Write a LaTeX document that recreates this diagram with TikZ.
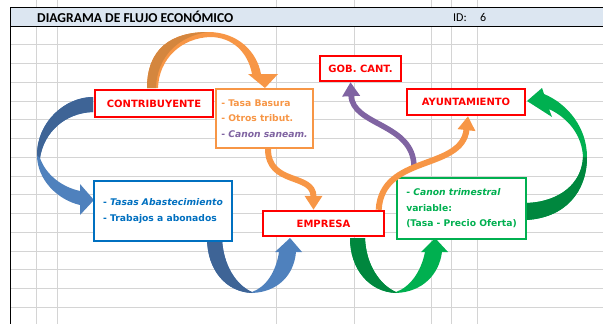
\documentclass[tikz,border=0pt]{standalone}
\usepackage{fontspec}
\setmainfont{Carlito}
\newfontfamily\comicfont{DejaVu Sans}
\usetikzlibrary{arrows.meta}
\definecolor{rotbox}{RGB}{255,0,0}
\definecolor{orangeline}{RGB}{247,150,70}
\definecolor{orangedark}{RGB}{212,134,62}
\definecolor{purpleline}{RGB}{128,100,162}
\definecolor{bluetext}{RGB}{0,112,192}
\definecolor{blueribbon}{RGB}{79,129,189}
\definecolor{bluedark}{RGB}{62,100,150}
\definecolor{greenbox}{RGB}{0,176,80}
\definecolor{greendark}{RGB}{0,135,62}
\definecolor{gridgray}{RGB}{212,212,212}
\definecolor{headerblue}{RGB}{220,230,241}
\begin{document}
\begin{tikzpicture}[x=1pt,y=-1pt,
    redbox/.style={draw=rotbox, line width=2.4pt, fill=white, text=rotbox, inner sep=0pt,
        font=\comicfont\bfseries\fontsize{10}{12}\selectfont},
    listbox/.style={fill=white, line width=1.8pt, inner sep=0pt, align=left,
        font=\comicfont\bfseries\fontsize{9.2}{15.5}\selectfont},
    flowline/.style={line width=6pt, -{Triangle[length=14pt,width=17pt]}},
    gridline/.style={gridgray, line width=0.8pt}]
            \useasboundingbox (0,0) rectangle (603,324);
            % Raster
            \foreach \x in {36,57,276,354,431,451,477}
                \draw[gridline] (\x,0) -- (\x,324);
            \foreach \y in {44,63,82,101,119,138,157,176,194,213,232,251,269,288,307}
                \draw[gridline] (10,\y) -- (603,\y);
            % Kopfzeile
            \fill[headerblue] (10,7) rectangle (603,26);
            \draw[line width=1pt] (10,7) -- (603,7);
            \draw[line width=1pt] (10,26) -- (603,26);
            \draw[line width=1pt] (10,7) -- (10,324);
            \node[anchor=base west, inner sep=0pt, font=\bfseries\fontsize{13.6}{15}\selectfont] (titel) at (37,22) {DIAGRAMA DE FLUJO ECONÓMICO};
            \node[anchor=base west, inner sep=0pt, font=\fontsize{12}{14}\selectfont] (idlabel) at (453,21) {ID:};
            \node[anchor=base west, inner sep=0pt, font=\fontsize{12}{14}\selectfont] (idwert) at (480,21) {6};
            % Pfeil oben (orange)
            \fill[orangeline] (147,88) .. controls (147,48) and (172,32) .. (208,32) .. controls (238,32) and (257,52) .. (261,74)
                -- (278,74) -- (265,88) -- (248,74) -- (252,74) .. controls (248,52) and (232,37) .. (210,37)
                .. controls (182,38) and (159,58) .. (158,88) -- cycle;
            \fill[orangedark] (147,88) .. controls (147,48) and (172,32) .. (208,32) .. controls (180,36) and (157,55) .. (156,88) -- cycle;
            % Pfeil links (blau)
            \fill[blueribbon] (93,97) .. controls (65,97) and (37,122) .. (37,155) .. controls (37,180) and (58,200) .. (80,205)
                -- (80,215) -- (94,200) -- (80,184) -- (80,191) .. controls (62,187) and (46,175) .. (40,158)
                .. controls (44,132) and (65,113) .. (93,112) -- cycle;
            \fill[bluedark] (93,97) .. controls (65,97) and (37,122) .. (37,155) -- (40,158) .. controls (44,132) and (65,113) .. (93,112) -- cycle;
            % Pfeil unten (blau)
            \fill[blueribbon] (207,238) .. controls (207,270) and (226,292) .. (252,293) .. controls (278,292) and (294,275) .. (296,252)
                -- (302,252) -- (290,238) -- (275,252) -- (279,252) .. controls (276,272) and (266,287) .. (252,292)
                .. controls (236,285) and (223,265) .. (222,238) -- cycle;
            \fill[bluedark] (207,238) .. controls (207,270) and (226,292) .. (252,293) -- (252,292) .. controls (236,285) and (223,265) .. (222,238) -- cycle;
            % Pfeil unten (gruen)
            \fill[greenbox] (350,238) .. controls (350,270) and (370,292) .. (396,293) .. controls (422,292) and (439,275) .. (442,252)
                -- (448,252) -- (435,238) -- (421,252) -- (425,252) .. controls (421,272) and (410,287) .. (396,292)
                .. controls (380,285) and (366,265) .. (365,238) -- cycle;
            \fill[greendark] (350,238) .. controls (350,270) and (370,292) .. (396,293) -- (396,292) .. controls (380,285) and (366,265) .. (365,238) -- cycle;
            % Pfeil rechts (gruen)
            \fill[greenbox] (526,220) .. controls (565,218) and (587,192) .. (587,157) .. controls (587,128) and (568,104) .. (544,94)
                -- (542,88) -- (527,101) -- (552,117) -- (549,109) .. controls (568,118) and (582,135) .. (583,157)
                .. controls (582,183) and (560,202) .. (526,203) -- cycle;
            \fill[greendark] (526,220) .. controls (565,218) and (587,192) .. (587,157) -- (583,157) .. controls (582,183) and (560,202) .. (526,203) -- cycle;
            % Kaesten
            \node[redbox, minimum width=118pt, minimum height=27pt] (contrib) at (154,103.5) {CONTRIBUYENTE};
            \node[redbox, minimum width=81pt, minimum height=25pt] (gob) at (360.5,68.5) {GOB. CANT.};
            \node[redbox, minimum width=118pt, minimum height=26pt] (ayunt) at (466,102) {AYUNTAMIENTO};
            \node[redbox, minimum width=121pt, minimum height=25pt] (empresa) at (323.5,223.5) {EMPRESA};
            \node[listbox, draw=orangeline, minimum width=97pt, minimum height=59pt] (tasa) at (264.5,118.5)
                {\textcolor{orangeline}{- Tasa Basura}\\\textcolor{orangeline}{- Otros tribut.}\\\textcolor{purpleline}{- \itshape Canon saneam.}};
            \node[listbox, draw=bluetext, text=bluetext, minimum width=138pt, minimum height=60pt] (abast) at (163,211)
                {- \textit{Tasas Abastecimiento}\\- Trabajos a abonados};
            \node[listbox, draw=greenbox, text=greenbox, minimum width=129pt, minimum height=61pt] (canon) at (461.5,208.5)
                {- \textit{Canon trimestral}\\variable:\\(Tasa - Precio Oferta)};
            % Verbindungen
            \coordinate (abzweig) at (414,167);
            \draw[flowline, purpleline, line width=5.5pt] (abzweig) .. controls +(0,-44) and +(2,44) .. ([xshift=-10pt]gob.south);
            \draw[flowline, orangeline] ([xshift=3.5pt]tasa.south) .. controls +(0,37) and +(0,-37) .. ([xshift=-10pt]empresa.north);
            \draw[flowline, orangeline] ([xshift=-6.5pt]empresa.north east) .. controls +(3,-56) and +(-6,55) .. ([xshift=2pt]ayunt.south);
\end{tikzpicture}
\end{document}
